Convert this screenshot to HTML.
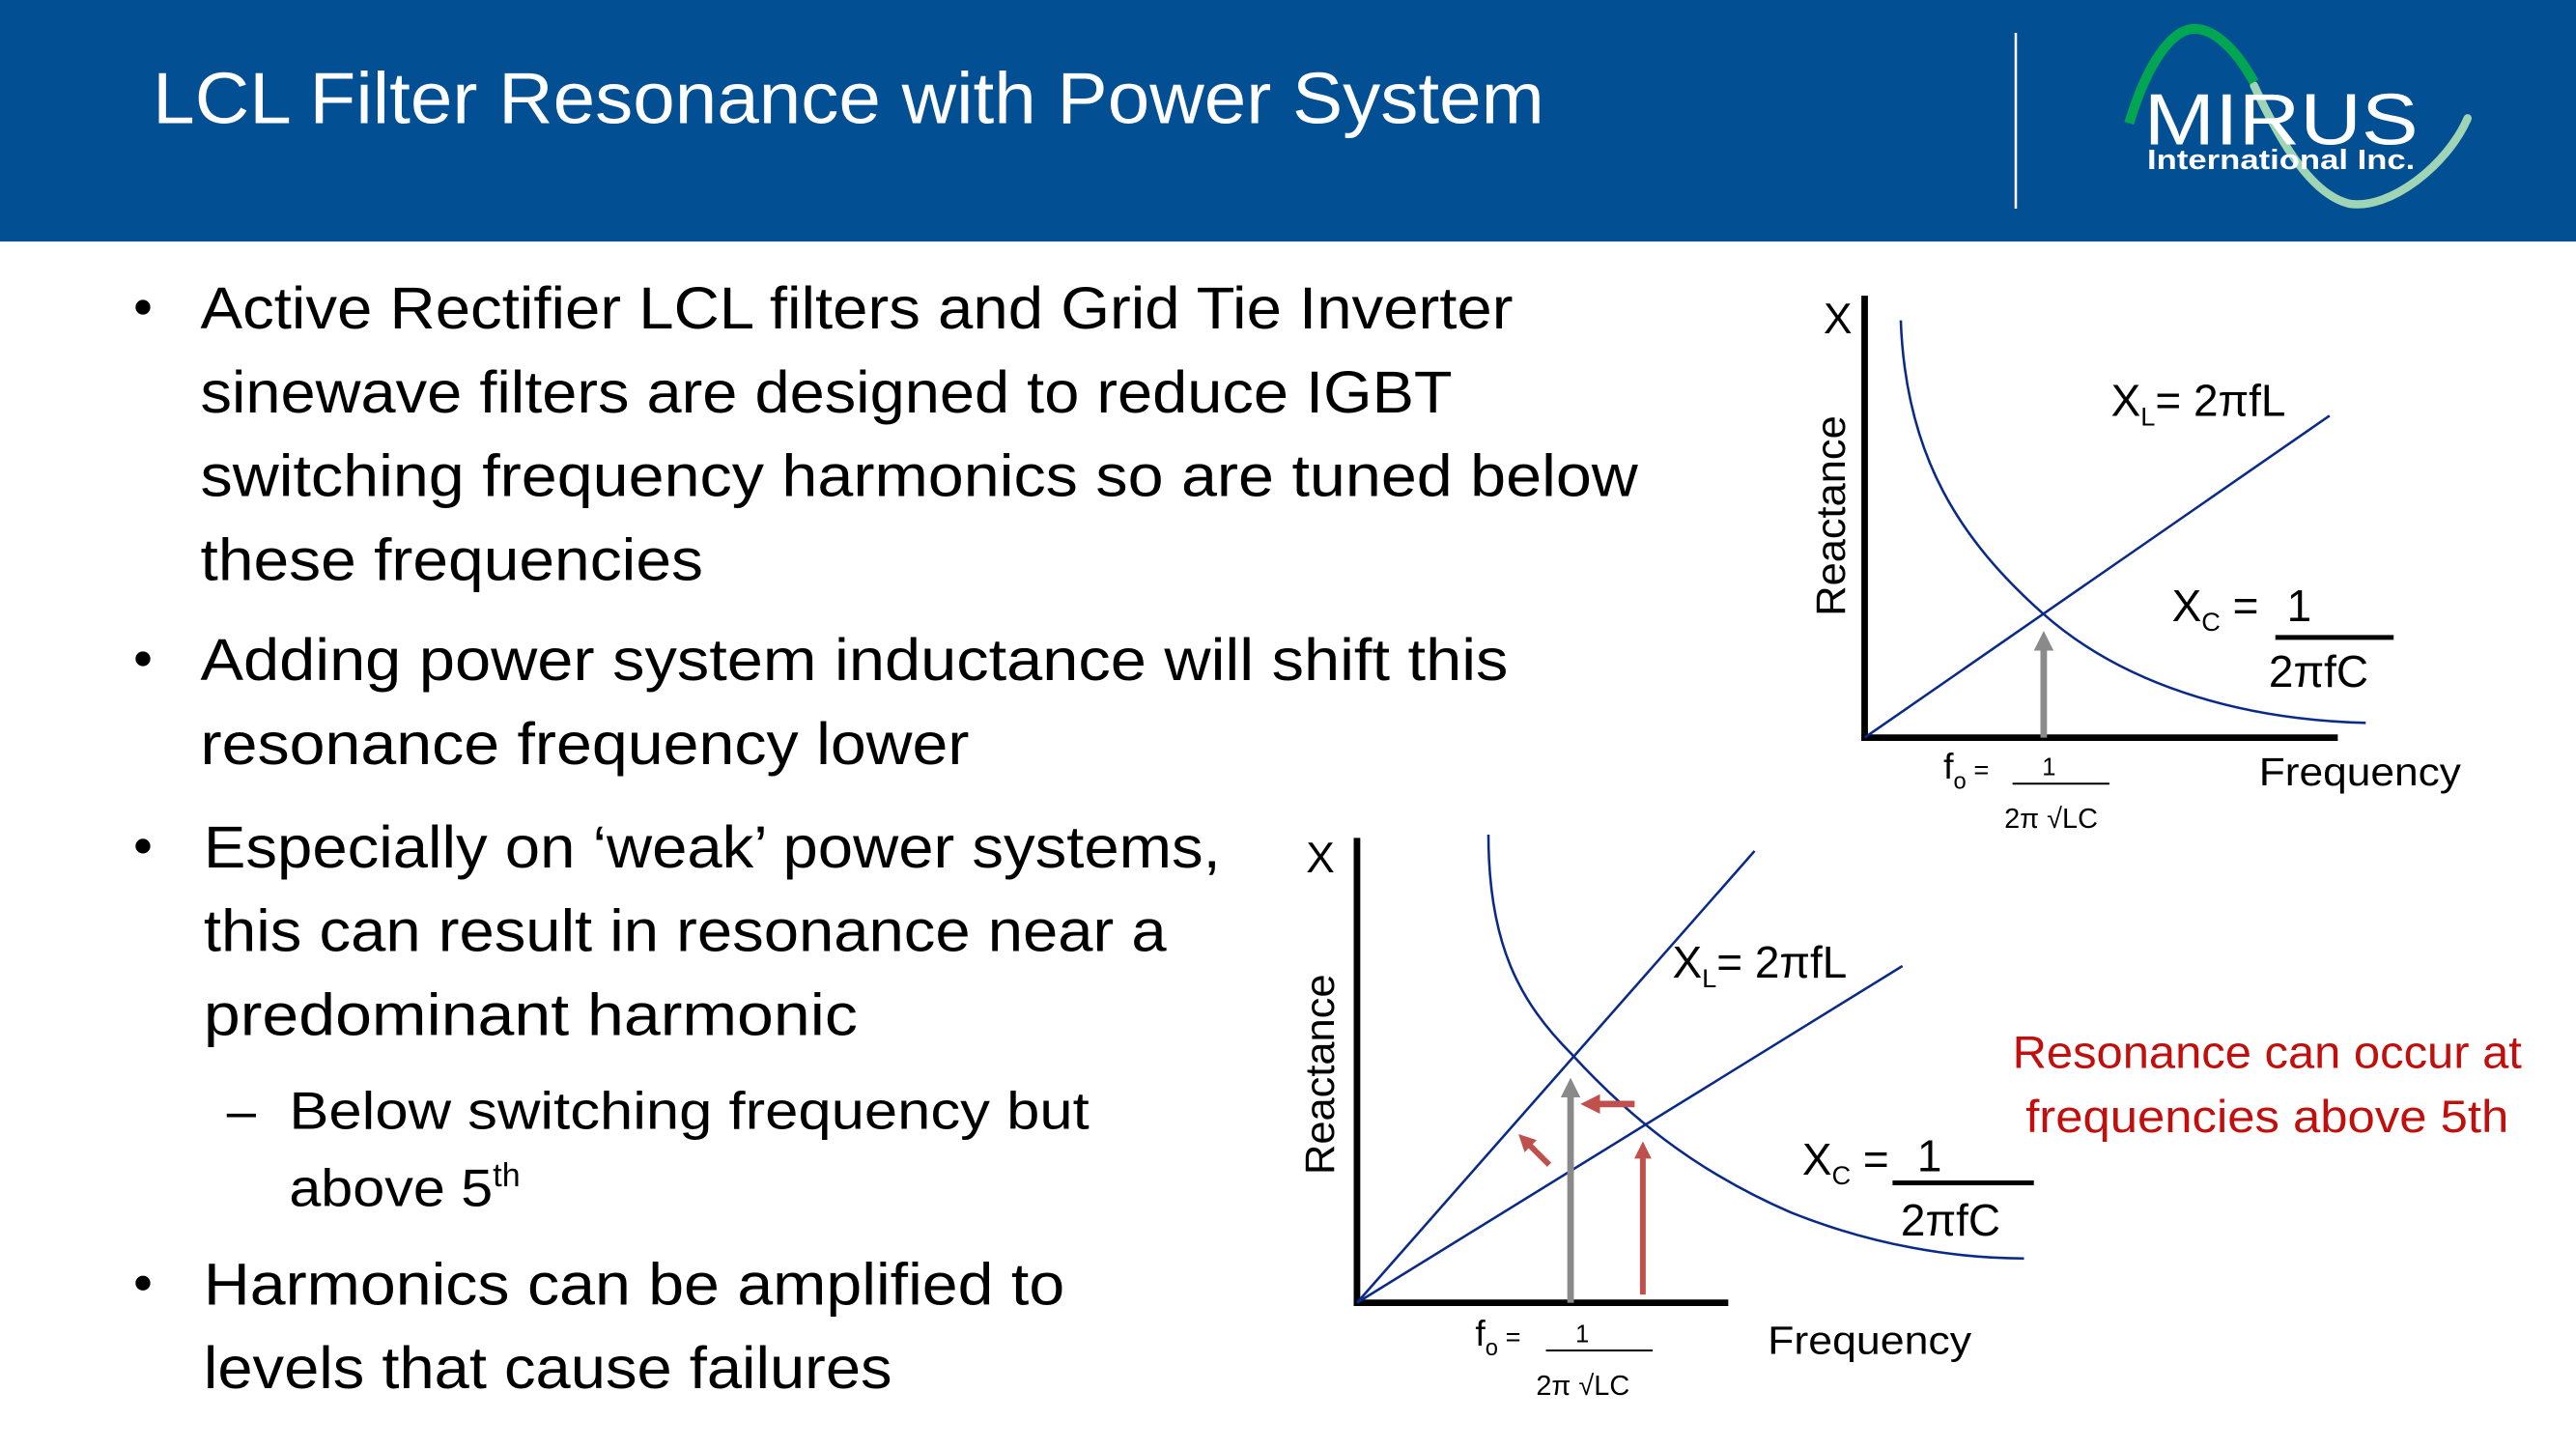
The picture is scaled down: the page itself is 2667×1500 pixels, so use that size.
<!DOCTYPE html>
<html><head><meta charset="utf-8"><style>
html,body{margin:0;padding:0;background:#fff;}
svg{display:block;}
text{font-family:"Liberation Sans",sans-serif;}
</style></head><body>
<svg width="2667" height="1500" viewBox="0 0 1568 882" preserveAspectRatio="none" xmlns="http://www.w3.org/2000/svg">
<defs>
<marker id="ag" viewBox="0 0 10 10" refX="5" refY="5" markerWidth="3" markerHeight="3.5" orient="auto"><path d="M0,0 L10,5 L0,10 z" fill="#8a8a8a"/></marker>
<marker id="ar" viewBox="0 0 10 10" refX="5" refY="5" markerWidth="3" markerHeight="3.5" orient="auto"><path d="M0,0 L10,5 L0,10 z" fill="#c0504d"/></marker>
</defs>
<rect x="0" y="0" width="1568" height="147" fill="#034f93"/>
<text x="93" y="75" font-size="44" fill="#fff" textLength="847" lengthAdjust="spacingAndGlyphs">LCL Filter Resonance with Power System</text>
<line x1="1227" y1="20" x2="1227" y2="127" stroke="#fff" stroke-width="1.5"/>
<!-- logo -->
<path d="M1372,52 C1385,80 1405,118 1430,124 C1455,128 1490,100 1502,72" fill="none" stroke="#9fd5b5" stroke-width="5" stroke-linecap="round"/>
<path d="M1296,75 C1305,45 1318,22 1332,18 C1345,15 1360,28 1372,50" fill="none" stroke="#00a651" stroke-width="6"/>
<text x="1305" y="88" font-size="44" fill="#fff" textLength="167" lengthAdjust="spacingAndGlyphs">MIRUS</text>
<text x="1307" y="103" font-size="17" font-weight="bold" fill="#fff" textLength="163" lengthAdjust="spacingAndGlyphs">International Inc.</text>
<!-- bullets -->
<g fill="#000">
<circle cx="87" cy="187" r="4.5"/><circle cx="87" cy="401" r="4.5"/><circle cx="87" cy="515" r="4.5"/><circle cx="87" cy="781" r="4.5"/>
</g>
<g font-size="36" fill="#000">
<text x="122" y="200" textLength="799" lengthAdjust="spacingAndGlyphs">Active Rectifier LCL filters and Grid Tie Inverter</text>
<text x="122" y="251" textLength="762" lengthAdjust="spacingAndGlyphs">sinewave filters are designed to reduce IGBT</text>
<text x="122" y="302" textLength="875" lengthAdjust="spacingAndGlyphs">switching frequency harmonics so are tuned below</text>
<text x="122" y="353" textLength="306" lengthAdjust="spacingAndGlyphs">these frequencies</text>
<text x="122" y="414" textLength="796" lengthAdjust="spacingAndGlyphs">Adding power system inductance will shift this</text>
<text x="122" y="465" textLength="468" lengthAdjust="spacingAndGlyphs">resonance frequency lower</text>
<text x="124" y="528" textLength="619" lengthAdjust="spacingAndGlyphs">Especially on ‘weak’ power systems,</text>
<text x="124" y="579" textLength="586" lengthAdjust="spacingAndGlyphs">this can result in resonance near a</text>
<text x="124" y="630" textLength="398" lengthAdjust="spacingAndGlyphs">predominant harmonic</text>
<text x="138" y="687" font-size="32">–</text>
<text x="176" y="687" font-size="32" textLength="487" lengthAdjust="spacingAndGlyphs">Below switching frequency but</text>
<text x="176" y="734" font-size="32" textLength="124" lengthAdjust="spacingAndGlyphs">above 5</text>
<text x="300" y="722" font-size="20">th</text>
<text x="124" y="794" textLength="524" lengthAdjust="spacingAndGlyphs">Harmonics can be amplified to</text>
<text x="124" y="845" textLength="419" lengthAdjust="spacingAndGlyphs">levels that cause failures</text>
</g>
<!-- top graph -->
<line x1="1135" y1="180" x2="1135" y2="451" stroke="#000" stroke-width="4"/>
<line x1="1133" y1="449" x2="1423" y2="449" stroke="#000" stroke-width="4"/>
<text x="1110" y="203" font-size="26">X</text>
<text transform="translate(1123,375) rotate(-90)" font-size="25" textLength="122" lengthAdjust="spacingAndGlyphs">Reactance</text>
<line x1="1135" y1="449" x2="1418" y2="253" stroke="#0a2a88" stroke-width="1.5"/>
<path d="M1157,195 C1160,280 1195,330 1243,373 C1290,415 1360,438 1440,440" fill="none" stroke="#0a2a88" stroke-width="1.5"/>
<line x1="1244" y1="449" x2="1244" y2="390" stroke="#8a8a8a" stroke-width="4" marker-end="url(#ag)"/>
<text x="1285" y="253" font-size="27">X<tspan font-size="16" dy="6">L</tspan><tspan dy="-6">= 2πfL</tspan></text>
<text x="1322" y="378" font-size="27">X<tspan font-size="16" dy="6">C</tspan><tspan dy="-6"> =</tspan></text>
<text x="1392" y="378" font-size="27">1</text>
<line x1="1385" y1="388" x2="1457" y2="388" stroke="#000" stroke-width="3"/>
<text x="1381" y="418" font-size="27">2πfC</text>
<text x="1375" y="478" font-size="24" textLength="123" lengthAdjust="spacingAndGlyphs">Frequency</text>
<text x="1183" y="474" font-size="22">f<tspan font-size="14" dy="6">o</tspan><tspan font-size="16" dy="-6"> =</tspan></text>
<text x="1243" y="472" font-size="15">1</text>
<line x1="1225" y1="477" x2="1284" y2="477" stroke="#000" stroke-width="1.2"/>
<text x="1220" y="504" font-size="17">2π √LC</text>
<!-- bottom graph -->
<line x1="826" y1="510" x2="826" y2="795" stroke="#000" stroke-width="4"/>
<line x1="824" y1="793" x2="1052" y2="793" stroke="#000" stroke-width="4"/>
<text x="795" y="531" font-size="26">X</text>
<text transform="translate(812,715) rotate(-90)" font-size="25" textLength="122" lengthAdjust="spacingAndGlyphs">Reactance</text>
<line x1="826" y1="793" x2="1068" y2="518" stroke="#0a2a88" stroke-width="1.5"/>
<line x1="826" y1="793" x2="1158" y2="588" stroke="#0a2a88" stroke-width="1.5"/>
<path d="M906,508 C906,575 925,610 957,642 C990,678 1030,712 1090,738 C1140,758 1190,766 1232,766" fill="none" stroke="#0a2a88" stroke-width="1.5"/>
<line x1="956" y1="793" x2="956" y2="662" stroke="#8a8a8a" stroke-width="4" marker-end="url(#ag)"/>
<line x1="1000" y1="788" x2="1000" y2="700" stroke="#c0504d" stroke-width="3.5" marker-end="url(#ar)"/>
<line x1="995" y1="672" x2="968" y2="672" stroke="#c0504d" stroke-width="4" marker-end="url(#ar)"/>
<line x1="943" y1="709" x2="928" y2="694" stroke="#c0504d" stroke-width="3.5" marker-end="url(#ar)"/>
<text x="1018" y="595" font-size="27">X<tspan font-size="16" dy="6">L</tspan><tspan dy="-6">= 2πfL</tspan></text>
<text x="1097" y="715" font-size="27">X<tspan font-size="16" dy="6">C</tspan><tspan dy="-6"> =</tspan></text>
<text x="1167" y="713" font-size="27">1</text>
<line x1="1152" y1="720" x2="1238" y2="720" stroke="#000" stroke-width="3"/>
<text x="1157" y="752" font-size="27">2πfC</text>
<text x="1076" y="824" font-size="24" textLength="124" lengthAdjust="spacingAndGlyphs">Frequency</text>
<text x="898" y="819" font-size="22">f<tspan font-size="14" dy="6">o</tspan><tspan font-size="16" dy="-6"> =</tspan></text>
<text x="959" y="817" font-size="15">1</text>
<line x1="941" y1="822" x2="1006" y2="822" stroke="#000" stroke-width="1.2"/>
<text x="935" y="849" font-size="17">2π √LC</text>
<text x="1380" y="650" font-size="28" fill="#c00f0c" text-anchor="middle" textLength="310" lengthAdjust="spacingAndGlyphs">Resonance can occur at</text>
<text x="1380" y="689" font-size="28" fill="#c00f0c" text-anchor="middle" textLength="294" lengthAdjust="spacingAndGlyphs">frequencies above 5th</text>
</svg>
</body></html>
